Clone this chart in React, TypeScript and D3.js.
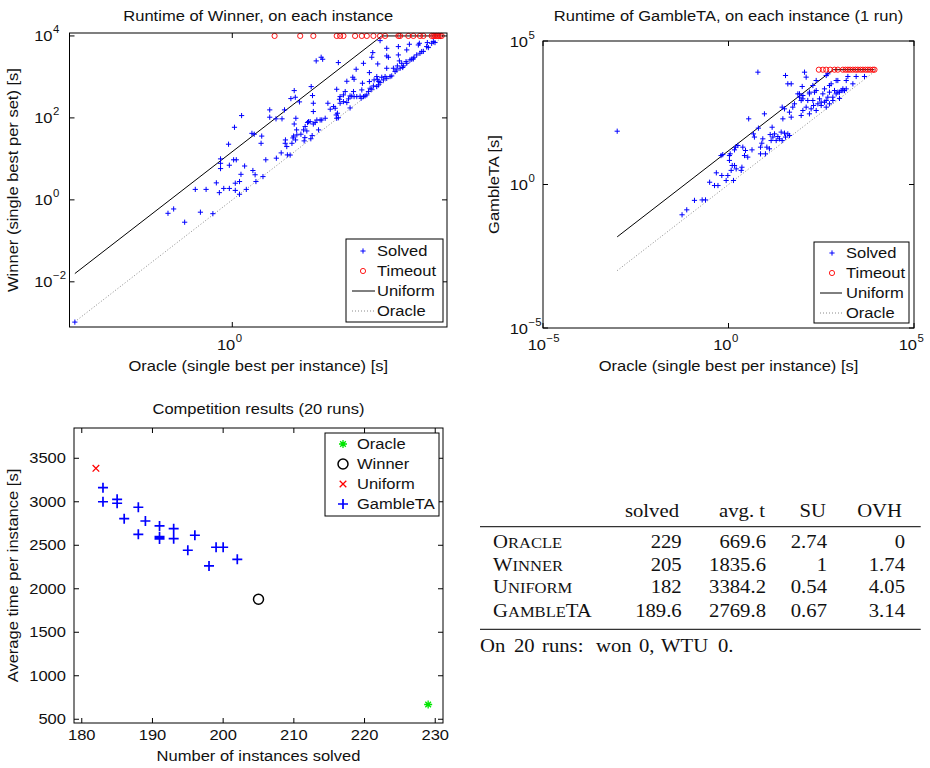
import React from 'react';
import * as d3 from 'd3';

// ---------------- DATA ----------------
const TIMEOUT = 10000;
const UNIFORM_FACTOR = 15;

// [oracle runtime, winner runtime] for solved instances
const winnerSolved: [number, number][] = [
  [1.06e-3, 1.04e-3], [0.061, 0.47], [0.078, 0.6], [0.126, 0.285], [0.25, 0.5], [0.43, 0.46],
  [0.2, 1.8], [0.32, 1.8], [0.5, 2.6], [0.57, 1.5], [0.69, 1.9], [0.88, 1.9], [1.14, 1.7],
  [1.37, 1.37], [1.84, 1.8], [1.14, 2.55], [1.37, 2.8], [1.46, 4.2], [1.71, 6.7], [2.45, 5.2],
  [2.7, 4.1], [2.8, 2.8], [3.8, 3.7], [4.3, 9.5], [0.6, 5.8], [0.6, 7.8], [0.6, 10], [0.88, 7.0],
  [1.06, 9.5], [1.19, 9.5], [0.85, 22.8], [1.1, 59], [1.5, 114], [2.35, 42], [2.6, 40], [3.5, 24],
  [3.6, 36], [5.1, 157], [5.1, 104], [6.7, 95], [8.7, 95], [9.7, 157], [6.8, 10.4], [8.4, 14],
  [10, 24], [10.1, 29], [11, 12.5], [12.4, 12.4], [13.4, 24], [14, 32.5], [14.4, 36], [15.7, 29],
  [16.4, 51], [14.8, 71], [15.9, 98], [19.8, 40], [22.8, 27.5], [23.5, 33], [25.6, 48], [26.4, 77],
  [27.5, 81], [30.5, 31], [32.3, 37], [34, 71], [36.8, 77], [42.6, 51], [45.7, 89], [57, 98],
  [34, 143], [34, 228], [32.8, 351], [31, 581], [12.8, 296], [14.8, 464], [15.5, 319], [18.6, 246],
  [64, 228], [38.5, 2460], [47.8, 3020], [51, 2700], [101, 2240], [71, 163], [82, 189], [92, 118],
  [94, 98], [101, 101], [106, 285], [109, 331], [94, 500], [126, 364], [136, 439], [146, 237],
  [157, 291], [168, 175], [181, 338], [195, 439], [200, 331], [146, 784], [189, 982], [200, 877],
  [219, 1540], [225, 331], [260, 338], [272, 302], [301, 331], [323, 344], [348, 364], [280, 482],
  [288, 701], [301, 2150], [390, 1275], [390, 770], [402, 529], [432, 500], [464, 603], [478, 845],
  [537, 1020], [552, 877], [585, 770], [620, 728], [560, 2075], [451, 3920], [432, 3020], [577, 638],
  [667, 982], [771, 1020], [828, 1627], [828, 3250], [828, 5000], [891, 3020], [957, 1020],
  [1030, 1057], [1107, 1627], [1190, 1350], [1316, 1855], [1375, 3440], [1375, 5500], [1437, 2460],
  [1590, 2150], [1660, 1700], [1710, 1855], [1920, 2365], [1977, 4560], [2220, 6270], [2280, 2600],
  [2455, 2700], [2715, 3020], [3050, 3440], [3280, 6030], [3425, 6620], [3790, 4150], [4075, 4200],
  [4710, 5500], [4850, 6880], [5060, 5200], [5850, 6620], [6290, 7280], [6760, 6900], [620, 7690],
  [10.7, 20], [16.6, 38.5], [22.2, 51], [23.8, 61.5], [29.6, 81], [39.6, 89], [49, 89], [88, 172],
  [97, 130], [109, 228], [126, 250], [168, 344], [374, 439], [537, 581], [717, 845], [828, 927],
  [1280, 1480], [1480, 1627], [1977, 2150], [2640, 2750], [3520, 3780],
];
// oracle runtime of instances where the winner timed out
const winnerTimeouts: number[] = [
  6.3, 19.2, 34, 94, 109, 126, 209, 280, 348, 464, 620, 771, 1375, 1480, 2120, 2640, 3520, 4075,
  5850, 6290, 6760, 7280, 7820, 8410, 9040,
];

// [oracle runtime, GambleTA runtime] for solved instances
const gambleSolved: [number, number][] = [
  [1.0e-3, 72], [6.2, 8200], [0.056, 0.088], [0.075, 0.131], [0.121, 0.28], [0.195, 0.29],
  [0.24, 0.29], [0.31, 1.2], [0.42, 0.92], [0.52, 0.92], [0.47, 2.55], [0.66, 2.06], [0.865, 1.38],
  [0.96, 2.06], [1.18, 3.1], [1.36, 1.38], [1.26, 4.6], [1.45, 4.6], [1.61, 3.5], [2.2, 3.1],
  [2.3, 4.0], [0.63, 10.2], [0.7, 11], [1.06, 10.2], [1.06, 6.9], [1.11, 11.7], [1.45, 16.1],
  [1.55, 20], [1.79, 22.9], [2.43, 20], [2.7, 10.2], [2.87, 15.3], [3.3, 9.0], [4.3, 16.1],
  [3.5, 194], [4.7, 58], [5.0, 45], [6.4, 92], [7.3, 20], [7.3, 11.7], [7.9, 27.5], [8.4, 39],
  [9.9, 11.7], [10.8, 20], [12.7, 17.5], [13.3, 55], [14.1, 34], [15, 99], [15.7, 45], [17.4, 58],
  [19.3, 34], [21.4, 47], [23.7, 39], [26.3, 67], [28, 34], [32.3, 61.5], [34.4, 45], [39.7, 58],
  [44, 51], [28, 495], [32.3, 433], [29.2, 194], [44, 331], [49, 222], [54, 495], [34.4, 6280],
  [39.7, 3220], [49, 3220], [60, 647], [74, 1440], [82, 1100], [91, 845], [101, 1260], [112, 8200],
  [124, 5500], [91, 254], [101, 379], [124, 495], [137, 845], [152, 1650], [188, 2810], [208, 1650],
  [231, 4200], [152, 290], [169, 433], [188, 845], [196, 566], [231, 379], [256, 647], [284, 966],
  [315, 566], [349, 1440], [387, 2150], [387, 740], [430, 495], [476, 1100], [527, 1650],
  [585, 3220], [649, 845], [720, 1880], [798, 1440], [885, 4200], [982, 1650], [1090, 1880],
  [1210, 2150], [1340, 1880], [1490, 2150], [1650, 5800], [2760, 5800], [4630, 5800], [2250, 3220],
  [430, 6280], [982, 1000], [527, 647], [9.3, 290], [82, 1440], [101, 966], [152, 1440],
  [231, 1880], [315, 740], [430, 845], [649, 1100], [885, 1650], [1210, 1880], [97, 2600],
  [476, 7180], [798, 4200], [1490, 4200], [527, 2810],
];
// oracle runtime of instances where GambleTA timed out
const gambleTimeouts: number[] = [
  272, 349, 430, 550, 720, 885, 1210, 1425, 1650, 1900, 2245, 2650, 3060, 3610, 4180, 4930, 5700,
  6580, 7770, 8610,
];

// competition results (20 runs)
const runSolved = [183, 183, 185, 185, 186, 188, 188, 189, 191, 191, 191, 193, 193, 195, 196, 198, 199, 200, 202, 191];
const runAvgTime = [3162, 3000, 3028, 2983, 2806, 2937, 2626, 2779, 2722, 2599, 2572, 2691, 2576, 2443, 2615, 2262, 2477, 2477, 2339, 2590];
const oracleResult: [number, number] = [229, 669.6];
const winnerResult: [number, number] = [205, 1880];
const uniformResult: [number, number] = [182, 3384.2];

const p1YTicks = [1e-2, 1, 1e2, 1e4];
const p1XTicks = [1];
const p2Ticks = [1e-5, 1, 1e5];
const compXTicks = [180, 190, 200, 210, 220, 230];
const compYTicks = [500, 1000, 1500, 2000, 2500, 3000, 3500];

const tableHeaders = ['solved', 'avg. t', 'SU', 'OVH'];
const tableNames = ['Oracle', 'Winner', 'Uniform', 'GambleTA'];
const tableSolvedCol = [229, 205, 182, 189.6];
const tableAvgT = [669.6, 1835.6, 3384.2, 2769.8];
const tableSU = [2.74, 1, 0.54, 0.67];
const tableOVH = [0, 1.74, 4.05, 3.14];
const footerWords = ['On', '20', 'runs:', 'won', '0,', 'WTU', '0.'];

// ---------------- HELPERS ----------------
const SANS = "'Liberation Sans', Arial, Helvetica, sans-serif";
const SERIF = "'Liberation Serif', 'Times New Roman', serif";
const SX = 1.14;
const INK = '#111';

function T({ x, y, children, size = 14.5, anchor = 'start', rot = 0, family = SANS, sx = SX, fill = INK }: any) {
  return (
    <text
      transform={`translate(${x},${y})${rot ? ` rotate(${rot})` : ''} scale(${sx},1)`}
      fontSize={size}
      fontFamily={family}
      textAnchor={anchor}
      fill={fill}
    >
      {children}
    </text>
  );
}

function expText(v: number) {
  const e = Math.round(Math.log10(v));
  return e < 0 ? `\u2212${-e}` : `${e}`;
}

function LogLabel({ x, y, v }: { x: number; y: number; v: number }) {
  return (
    <g>
      <T x={x} y={y} anchor="end" size={14.5}>10</T>
      <T x={x + 0.5} y={y - 8} size={10}>{expText(v)}</T>
    </g>
  );
}

const plusPath = (x: number, y: number, r: number) => `M${x - r},${y}H${x + r}M${x},${y - r}V${y + r}`;
const crossPath = (x: number, y: number, r: number) =>
  `M${x - r},${y - r}L${x + r},${y + r}M${x - r},${y + r}L${x + r},${y - r}`;
const starPath = (x: number, y: number, r: number) => {
  const d = r * Math.SQRT1_2;
  return `${plusPath(x, y, r)}M${x - d},${y - d}L${x + d},${y + d}M${x - d},${y + d}L${x + d},${y - d}`;
};

// ---------------- LOG SCATTER PANEL ----------------
function LogPanel(props: any) {
  const { left, right, top, bottom, xDomain, yDomain, xTicks, yTicks, solved, timeouts, title, yLabel,
    yLabelX, yTickOffset, leg } = props;
  const x = d3.scaleLog().domain(xDomain).range([left, right]);
  const y = d3.scaleLog().domain(yDomain).range([bottom, top]);
  const allOracle = solved.map((d: [number, number]) => d[0]).concat(timeouts);
  const xmin = d3.min(allOracle) as number;
  const xmax = d3.max(allOracle) as number;
  const line = d3.line<[number, number]>().x((d) => x(d[0])).y((d) => y(d[1]));
  const uniformPts: [number, number][] = [
    [xmin, xmin * UNIFORM_FACTOR], [TIMEOUT / UNIFORM_FACTOR, TIMEOUT], [xmax, TIMEOUT],
  ];
  const oraclePts: [number, number][] = [[xmin, xmin], [xmax, xmax]];
  const tl = 5;
  const cx = (left + right) / 2;
  return (
    <g>
      <T x={cx} y={21} anchor="middle">{title}</T>
      {/* marks */}
      <path d={line(oraclePts) || ''} fill="none" stroke="#8a8a8a" strokeWidth={1} strokeDasharray="1,2" />
      <path d={line(uniformPts) || ''} fill="none" stroke="#000" strokeWidth={1} />
      <path
        d={solved.map((d: [number, number]) => plusPath(x(d[0]), y(d[1]), 2.6)).join('')}
        fill="none" stroke="#0000ff" strokeWidth={1}
      />
      {timeouts.map((t: number, i: number) => (
        <circle key={i} cx={x(t)} cy={y(TIMEOUT)} r={2.6} fill="none" stroke="#ff0000" strokeWidth={0.9} />
      ))}
      {/* frame + ticks */}
      <rect x={left} y={top} width={right - left} height={bottom - top} fill="none" stroke="#000" strokeWidth={1} />
      {yTicks.map((v: number, i: number) => (
        <g key={'y' + i}>
          <line x1={left} x2={left + tl} y1={y(v)} y2={y(v)} stroke="#000" />
          <line x1={right} x2={right - tl} y1={y(v)} y2={y(v)} stroke="#000" />
          <LogLabel x={left - yTickOffset} y={y(v) + 5.5} v={v} />
        </g>
      ))}
      {xTicks.map((v: number, i: number) => (
        <g key={'x' + i}>
          <line x1={x(v)} x2={x(v)} y1={bottom} y2={bottom - tl} stroke="#000" />
          <line x1={x(v)} x2={x(v)} y1={top} y2={top + tl} stroke="#000" />
          <LogLabel x={x(v) + 3} y={350} v={v} />
        </g>
      ))}
      <T x={cx} y={371} anchor="middle">Oracle (single best per instance) [s]</T>
      <T x={yLabelX} y={(top + bottom) / 2} anchor="middle" rot={-90}>{yLabel}</T>
      {/* legend */}
      <rect x={leg.x0} y={leg.y0} width={leg.x1 - leg.x0} height={leg.y1 - leg.y0} fill="#fff" stroke="#000" strokeWidth={1} />
      <path d={plusPath(leg.mx, leg.rows[0], 2.6)} stroke="#0000ff" strokeWidth={1} />
      <circle cx={leg.mx} cy={leg.rows[1]} r={2.6} fill="none" stroke="#ff0000" strokeWidth={0.9} />
      <line x1={leg.lx0} x2={leg.lx1} y1={leg.rows[2]} y2={leg.rows[2]} stroke="#000" />
      <line x1={leg.lx0} x2={leg.lx1} y1={leg.rows[3]} y2={leg.rows[3]} stroke="#8a8a8a" strokeDasharray="1,2" />
      {['Solved', 'Timeout', 'Uniform', 'Oracle'].map((s, i) => (
        <T key={s} x={leg.tx} y={leg.rows[i] + 5}>{s}</T>
      ))}
    </g>
  );
}

// ---------------- COMPETITION PANEL ----------------
function CompPanel() {
  const left = 74, right = 443, top = 428, bottom = 723;
  const x = d3.scaleLinear().domain([178.9, 231.1]).range([left, right]);
  const y = d3.scaleLinear().domain([457, 3848]).range([bottom, top]);
  const tl = 5;
  const cx = (left + right) / 2;
  const legRows = [444, 464, 484, 504];
  const lmx = 343;
  return (
    <g>
      <T x={cx} y={414} anchor="middle">Competition results (20 runs)</T>
      <path
        d={runSolved.map((s, i) => plusPath(x(s), y(runAvgTime[i]), 5)).join('')}
        fill="none" stroke="#0000ff" strokeWidth={1.7}
      />
      <path d={crossPath(x(uniformResult[0]), y(uniformResult[1]), 3.3)} stroke="#ff0000" strokeWidth={1.3} />
      <circle cx={x(winnerResult[0])} cy={y(winnerResult[1])} r={5} fill="none" stroke="#000" strokeWidth={1.5} />
      <path d={starPath(x(oracleResult[0]), y(oracleResult[1]), 4)} stroke="#00e600" strokeWidth={1.3} />
      <rect x={left} y={top} width={right - left} height={bottom - top} fill="none" stroke="#000" />
      {compYTicks.map((v) => (
        <g key={'y' + v}>
          <line x1={left} x2={left + tl} y1={y(v)} y2={y(v)} stroke="#000" />
          <line x1={right} x2={right - tl} y1={y(v)} y2={y(v)} stroke="#000" />
          <T x={left - 8} y={y(v) + 5} anchor="end">{v}</T>
        </g>
      ))}
      {compXTicks.map((v) => (
        <g key={'x' + v}>
          <line x1={x(v)} x2={x(v)} y1={bottom} y2={bottom - tl} stroke="#000" />
          <line x1={x(v)} x2={x(v)} y1={top} y2={top + tl} stroke="#000" />
          <T x={x(v)} y={740} anchor="middle">{v}</T>
        </g>
      ))}
      <T x={cx} y={761} anchor="middle">Number of instances solved</T>
      <T x={17.5} y={(top + bottom) / 2} anchor="middle" rot={-90}>Average time per instance [s]</T>
      <rect x={325} y={433} width={114} height={83} fill="#fff" stroke="#000" />
      <path d={starPath(lmx, legRows[0], 4)} stroke="#00e600" strokeWidth={1.3} />
      <circle cx={lmx} cy={legRows[1]} r={5} fill="none" stroke="#000" strokeWidth={1.5} />
      <path d={crossPath(lmx, legRows[2], 3.3)} stroke="#ff0000" strokeWidth={1.3} />
      <path d={plusPath(lmx, legRows[3], 5)} stroke="#0000ff" strokeWidth={1.7} />
      {['Oracle', 'Winner', 'Uniform', 'GambleTA'].map((s, i) => (
        <T key={s} x={357} y={legRows[i] + 5}>{s}</T>
      ))}
    </g>
  );
}

// ---------------- TABLE ----------------
const TS = 19;
const TSX = 1.09;
function SmallCaps({ x, y, text }: { x: number; y: number; text: string }) {
  const parts: { s: string; big: boolean }[] = [];
  for (const ch of text) {
    const big = ch === ch.toUpperCase();
    const last = parts[parts.length - 1];
    if (last && last.big === big) last.s += ch.toUpperCase();
    else parts.push({ s: ch.toUpperCase(), big });
  }
  return (
    <text transform={`translate(${x},${y}) scale(${TSX},1)`} fontFamily={SERIF} fontSize={TS} fill={INK}>
      {parts.map((p, i) => (
        <tspan key={i} fontSize={p.big ? TS : TS * 0.8}>{p.s}</tspan>
      ))}
    </text>
  );
}

function ResultsTable() {
  const headerRight = [679, 765, 826, 902];
  const colRight = [681.7, 766, 827, 905];
  const rowY = [548.3, 571, 593.3, 616.5];
  const cols = [tableSolvedCol, tableAvgT, tableSU, tableOVH];
  const footerX = [480, 514, 542, 596, 639, 661, 718];
  return (
    <g>
      {tableHeaders.map((h, i) => (
        <T key={h} x={headerRight[i]} y={516.7} anchor="end" family={SERIF} size={TS} sx={TSX}>{h}</T>
      ))}
      <line x1={480} x2={920.7} y1={526.7} y2={526.7} stroke="#333" strokeWidth={1.2} />
      {tableNames.map((n, r) => (
        <g key={n}>
          <SmallCaps x={493} y={rowY[r]} text={n} />
          {cols.map((c, ci) => (
            <T key={ci} x={colRight[ci]} y={rowY[r]} anchor="end" family={SERIF} size={TS} sx={TSX}>{String(c[r])}</T>
          ))}
        </g>
      ))}
      <line x1={480} x2={920.7} y1={629.3} y2={629.3} stroke="#333" strokeWidth={1.2} />
      {footerWords.map((w, i) => (
        <T key={i} x={footerX[i]} y={652} family={SERIF} size={TS} sx={TSX}>{w}</T>
      ))}
    </g>
  );
}

export default function App() {
  return (
    <svg width={930} height={768} viewBox="0 0 930 768"
      style={{ position: 'absolute', left: 0, top: 0, background: '#fff' }}>
      <rect width={930} height={768} fill="#fff" />
      <LogPanel
        left={69.5} right={447} top={33} bottom={327}
        xDomain={[8.4e-4, 1.14e4]} yDomain={[7.9e-4, 1.18e4]}
        xTicks={p1XTicks} yTicks={p1YTicks}
        solved={winnerSolved} timeouts={winnerTimeouts}
        title="Runtime of Winner, on each instance"
        yLabel="Winner (single best per set) [s]" yLabelX={17.5} yTickOffset={17}
        leg={{ x0: 346, x1: 443, y0: 239, y1: 322, rows: [251, 271, 291, 311], mx: 363, lx0: 352, lx1: 375, tx: 377 }}
      />
      <LogPanel
        left={543} right={914} top={41} bottom={328}
        xDomain={[1e-5, 1e5]} yDomain={[1e-5, 1e5]}
        xTicks={p2Ticks} yTicks={p2Ticks}
        solved={gambleSolved} timeouts={gambleTimeouts}
        title="Runtime of GambleTA, on each instance (1 run)"
        yLabel="GambleTA [s]" yLabelX={499} yTickOffset={15}
        leg={{ x0: 814, x1: 909, y0: 242, y1: 323, rows: [253, 273, 293, 313], mx: 832, lx0: 820, lx1: 842, tx: 846 }}
      />
      <CompPanel />
      <ResultsTable />
    </svg>
  );
}
